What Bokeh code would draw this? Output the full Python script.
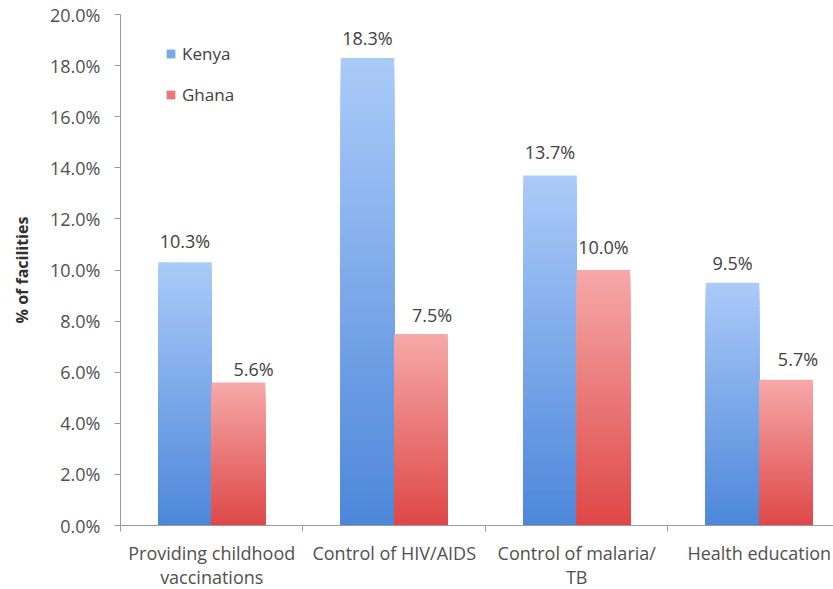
import numpy as np
from bokeh.plotting import figure
from bokeh.models import (FixedTicker, PrintfTickFormatter, Legend, LegendItem,
                          Range1d)
from bokeh.core.properties import value
from bokeh.embed import file_html
from bokeh.resources import INLINE

# ---- data ----
categories = ["Providing childhood\nvaccinations", "Control of HIV/AIDS",
              "Control of malaria/\nTB", "Health education"]
series_names = ["Kenya", "Ghana"]
kenya = [10.3, 18.3, 13.7, 9.5]
ghana = [5.6, 7.5, 10.0, 5.7]
y_ticks = [0, 2, 4, 6, 8, 10, 12, 14, 16, 18, 20]
y_label = "% of facilities"

# ---- style ----
FONT = "Open Sans"
AXIS_COL = "#9a9a9a"
BAR_W = 0.293
N_STRIPS = 60
KENYA_TOP, KENYA_BOT = (170, 202, 248), (76, 134, 218)
GHANA_TOP, GHANA_BOT = (246, 168, 168), (222, 70, 70)
# label offsets (pixels) to mimic original placement
k_dx = [0, 0, 0, 0]
k_dy = [-21, -20, -23, -20]
g_dx = [15, 11, 0, 12]
g_dy = [-13, -19, -23, -21]


def mix(c_bot, c_top, f):
    r = [int(round(b + (t - b) * f)) for b, t in zip(c_bot, c_top)]
    return "#%02x%02x%02x" % tuple(r)


p = figure(frame_width=713, frame_height=511,
           min_border_left=120, min_border_right=0, min_border_top=14,
           min_border_bottom=64,
           x_range=Range1d(0, 3.907), y_range=Range1d(0, 20),
           output_backend="svg", toolbar_location=None)
p.outline_line_color = None
p.xgrid.visible = False
p.ygrid.visible = False
p.background_fill_color = "white"
p.border_fill_color = "white"

n = len(categories)
series = [(kenya, -BAR_W / 2, KENYA_TOP, KENYA_BOT),
          (ghana, BAR_W / 2, GHANA_TOP, GHANA_BOT)]
for vals, off, ctop, cbot in series:
    xs, tops, cols = [], [], []
    for k in range(N_STRIPS):
        f = 1 - k / N_STRIPS
        for i, v in enumerate(vals):
            xs.append(i + 0.5 + off)
            tops.append(v * f)
            cols.append(mix(cbot, ctop, f))
    p.vbar(x=xs, top=tops, bottom=0, width=BAR_W, fill_color=cols,
           line_color=None)

# value labels
for vals, off, dx, dy in [(kenya, -BAR_W / 2, k_dx, k_dy),
                          (ghana, BAR_W / 2, g_dx, g_dy)]:
    p.text(x=[i + 0.5 + off for i in range(n)], y=vals,
           text=["%.1f%%" % v for v in vals],
           x_offset=dx, y_offset=dy,
           text_align="center", text_baseline="middle",
           text_font=value(FONT), text_font_size="18px", text_color="#404040")

# legend (zero-height swatch renderers)
r_k = p.vbar(x=[0], top=[0], width=0.0, fill_color=mix(KENYA_BOT, KENYA_TOP, 0.5),
             line_color=None)
r_g = p.vbar(x=[0], top=[0], width=0.0, fill_color=mix(GHANA_BOT, GHANA_TOP, 0.5),
             line_color=None)
legend = Legend(items=[LegendItem(label=series_names[0], renderers=[r_k]),
                       LegendItem(label=series_names[1], renderers=[r_g])],
                location=(45, 419), orientation="vertical",
                glyph_width=11, glyph_height=11, label_height=22,
                label_standoff=6, spacing=18, padding=0, margin=0,
                border_line_color=None, background_fill_alpha=0,
                label_text_font=FONT, label_text_font_size="17px",
                label_text_color="#404040")
p.add_layout(legend)

# x axis
xa = p.xaxis[0]
xa.ticker = FixedTicker(ticks=[i + 0.5 for i in range(n)],
                        minor_ticks=list(range(n + 1)))
xa.major_label_overrides = {i + 0.5: c for i, c in enumerate(categories)}
xa.major_tick_line_color = None
xa.major_tick_out = 0
xa.major_tick_in = 0
xa.minor_tick_in = 0
xa.minor_tick_out = 6
xa.minor_tick_line_color = AXIS_COL
xa.axis_line_color = AXIS_COL
xa.major_label_standoff = 9
xa.major_label_text_font = FONT
xa.major_label_text_font_size = "18px"
xa.major_label_text_line_height = 1.0
xa.major_label_text_color = "#505050"

# y axis
ya = p.yaxis[0]
ya.ticker = FixedTicker(ticks=y_ticks)
ya.formatter = PrintfTickFormatter(format="%.1f%%")
ya.major_tick_out = 6
ya.major_tick_in = 0
ya.minor_tick_line_color = None
ya.major_tick_line_color = AXIS_COL
ya.axis_line_color = AXIS_COL
ya.major_label_standoff = 14
ya.major_label_text_font = FONT
ya.major_label_text_font_size = "18px"
ya.major_label_text_color = "#505050"
ya.axis_label = y_label
ya.axis_label_standoff = 14
ya.axis_label_text_font = FONT
ya.axis_label_text_font_size = "16px"
ya.axis_label_text_font_style = "bold"
ya.axis_label_text_color = "#303030"

open("out.html", "w").write(file_html(p, INLINE))
